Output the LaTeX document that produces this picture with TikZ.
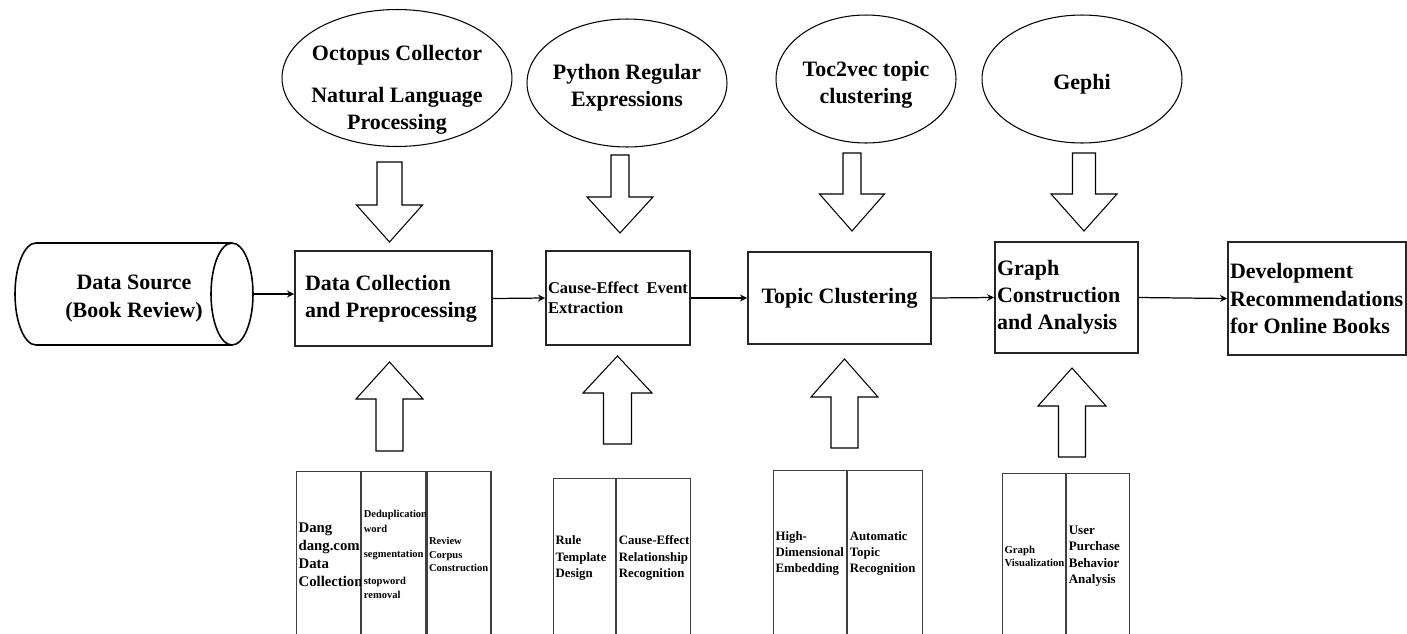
\documentclass[tikz,border=0pt]{standalone}
\usepackage{fontspec}
\setmainfont{Liberation Serif}
\usetikzlibrary{shapes.geometric,arrows.meta,positioning}

\hyphenpenalty=10000
\exhyphenpenalty=10000

% bold text at a given size and baseline skip
\newcommand{\boldsize}[2]{\fontsize{#1}{#2}\selectfont\bfseries}

% hollow block arrow: x, tail y, head base y, tip y, shaft half width, head half width
\newcommand{\hollowarrow}[6]{%
  \draw[blockarrow] ({#1-#5},#2) -- ({#1+#5},#2) -- ({#1+#5},#3) -- ({#1+#6},#3)
    -- (#1,#4) -- ({#1-#6},#3) -- ({#1-#5},#3) -- cycle;}

\tikzset{
  stage/.style={draw=black!85, line width=1.1pt, inner ysep=0pt, font=\boldsize{12.5}{15.4}},
  tool/.style={ellipse, draw, line width=0.6pt, inner sep=0pt},
  tooltext/.style={align=center, inner sep=0pt, font=\boldsize{12.5}{15.4}},
  blockarrow/.style={draw, line width=0.6pt, fill=white},
  column/.style={draw=black!75, line width=0.7pt, align=flush left, inner xsep=0.04cm, inner ysep=0pt},
  flow/.style={-{Stealth[length=4pt,width=4pt]}, line width=0.7pt}
}

\begin{document}
\begin{tikzpicture}[x=0.02cm, y=-0.02cm]
    \useasboundingbox (0,0) rectangle (1407,633);

    % Data source drum
    \draw[line width=0.9pt] (232,243) -- (36,243)
        arc[start angle=90, end angle=270, x radius=0.42cm, y radius=1.02cm] -- (232,345);
    \draw[line width=0.9pt] (232,294) ellipse [x radius=0.42cm, y radius=1.02cm];
    \coordinate (source) at (253,294);
    \node[tooltext, font=\boldsize{12.5}{16}] (source-text) at (134,299) {Data Source\\(Book Review)};

    % Main chain
    \node[stage, align=flush left, inner xsep=0.2cm, text width=3.54cm, minimum height=1.9cm] (collect) at (393.5,298.5)
          {Data Collection\\and Preprocessing};
    \node[stage, align=flush left, inner xsep=0.04cm, text width=2.8cm, minimum height=1.88cm,
          font=\boldsize{9.4}{11.5}] (extract) at (618,298)
          {\mbox{Cause-Effect}\hfill Event\\Extraction\\[0.5cm]};
    \node[stage, minimum width=3.66cm, minimum height=1.84cm] (cluster) at (839.5,298) {Topic Clustering};
    \node[stage, align=flush left, inner xsep=0.04cm, text width=2.78cm, minimum height=2.22cm] (graph) at (1066.5,297.5)
          {Graph\\Construction\\and Analysis};
    \node[stage, align=flush left, inner xsep=0.04cm, text width=3.48cm, minimum height=2.26cm] (advice) at (1317,298.5)
          {Development\\Recommendations\\for Online Books};

    \draw[flow] (source) -- (source -| collect.west);
    \draw[flow] (collect.east) -- (extract.west);
    \draw[flow] (extract.east) -- (cluster.west);
    \draw[flow] (cluster.east) -- (graph.west);
    \draw[flow] (graph.east) -- (advice.west);

    % Tools
    \node[tool, minimum width=4.6cm, minimum height=2.74cm] (octopus) at (397,78) {};
    \node[tooltext] (octopus-text) at (397,90) {Octopus Collector\\[0.3cm]Natural Language\\Processing};
    \node[tool, minimum width=4cm, minimum height=2.56cm] (regex) at (627,83) {};
    \node[tooltext] (regex-text) at (627,87.5) {Python Regular\\Expressions};
    \node[tool, minimum width=3.6cm, minimum height=2.56cm] (toc2vec) at (866,79) {};
    \node[tooltext] (toc2vec-text) at (866,85) {Toc2vec topic\\clustering};
    \node[tool, minimum width=4cm, minimum height=2.56cm] (gephi) at (1082,79) {};
    \node[tooltext] (gephi-text) at (1082,84) {Gephi};

    \hollowarrow{389.5}{162}{205}{242}{12.5}{33}
    \hollowarrow{620}{155}{197}{233}{9}{33}
    \hollowarrow{852}{153}{194}{231}{9}{32.5}
    \hollowarrow{1084}{153}{194}{231}{11.5}{33}

    \hollowarrow{389.5}{451}{399}{362}{13.5}{33.5}
    \hollowarrow{617.5}{444}{393}{356}{14}{34.5}
    \hollowarrow{844.5}{448}{397}{359}{13.5}{33.5}
    \hollowarrow{1072}{457}{406}{368}{13.5}{34}

    % Steps below each stage
    \node[column, anchor=north west, text width=1.2cm, minimum height=3.32cm, font=\boldsize{8.4}{10.2}] (dang) at (296,471)
          {Dang\\dang.com\\Data\\Collection};
    \node[column, right=0pt of dang, text width=1.2cm, minimum height=3.32cm, font=\boldsize{6}{8.3}] (clean)
          {Deduplication\\word\\[6pt]segmentation\\[7pt]stopword\\removal};
    \node[column, right=0pt of clean, text width=1.2cm, minimum height=3.32cm, font=\boldsize{6}{7.7}] (corpus)
          {Review\\Corpus\\Construction};

    \node[column, anchor=north west, text width=1.16cm, minimum height=3.18cm, font=\boldsize{7.3}{9.4}] (rule) at (553,478)
          {Rule\\Template\\Design};
    \node[column, right=0pt of rule, text width=1.4cm, minimum height=3.18cm, font=\boldsize{7.3}{9.4}] (relation)
          {\mbox{Cause-Effect}\\Relationship\\Recognition};

    \node[column, anchor=north west, text width=1.38cm, minimum height=3.32cm, font=\boldsize{7.3}{9.2}] (embed) at (773,470)
          {High-\\Dimensional\\Embedding};
    \node[column, right=0pt of embed, text width=1.42cm, minimum height=3.32cm, font=\boldsize{7.3}{9.2}] (topic)
          {Automatic\\Topic\\Recognition};

    \node[column, anchor=north west, text width=1.18cm, minimum height=3.3cm, font=\boldsize{6.1}{7.4}] (visual) at (1002,473)
          {Graph\\Visualization};
    \node[column, right=0pt of visual, text width=1.18cm, minimum height=3.3cm, font=\boldsize{7.4}{9.4}] (behavior)
          {User\\Purchase\\Behavior\\Analysis};
\end{tikzpicture}
\end{document}
